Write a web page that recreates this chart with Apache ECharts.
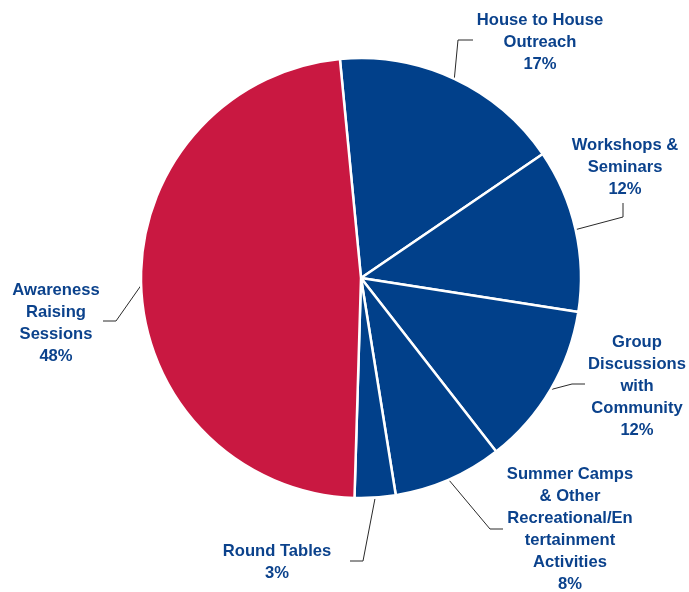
<!DOCTYPE html>
<html>
<head>
<meta charset="utf-8">
<script src="https://cdn.jsdelivr.net/npm/echarts@6/dist/echarts.min.js"></script>
<style>
  html, body { margin: 0; padding: 0; background: #ffffff; }
  #chart { width: 689px; height: 592px; }
</style>
</head>
<body>
<div id="chart"></div>
<script>
// Activity categories, clockwise from the top
const categories = [
  'House to House\nOutreach',
  'Workshops &\nSeminars',
  'Group\nDiscussions\nwith\nCommunity',
  'Summer Camps\n& Other\nRecreational/En\ntertainment\nActivities',
  'Round Tables',
  'Awareness\nRaising\nSessions'
];
// Share of activities (%)
const shares = [17, 12, 12, 8, 3, 48];

// Slice colours
const BLUE = '#01408A';
const RED = '#C91841';
const sliceColors = [BLUE, BLUE, BLUE, BLUE, BLUE, RED];

// Label placement: text block centre and the two bend points of each leader line
const labelLayoutSpec = [
  { x: 540, y: 42,  line: [[458, 40], [473, 40]] },
  { x: 625, y: 167, line: [[623, 217], [623, 203]] },
  { x: 637, y: 386, line: [[572, 384], [585, 384]] },
  { x: 570, y: 529, line: [[490, 529], [503, 529]] },
  { x: 277, y: 562, line: [[363, 561], [350, 561]] },
  { x: 56,  y: 323, line: [[116, 321], [103, 321]] }
];

const chart = echarts.init(document.getElementById('chart'), null, { renderer: 'canvas' });

chart.setOption({
  animation: false,
  backgroundColor: '#ffffff',
  series: [{
    type: 'pie',
    center: [361, 278],
    radius: [0, 220],
    startAngle: 95.5,
    clockwise: true,
    avoidLabelOverlap: false,
    itemStyle: { borderColor: '#ffffff', borderWidth: 2.5 },
    label: {
      show: true,
      position: 'outside',
      formatter: p => p.name + '\n' + p.value + '%',
      color: '#0B428C',
      fontFamily: '"Liberation Sans", Arial, sans-serif',
      fontWeight: 'bold',
      fontSize: 16.6,
      lineHeight: 22,
      align: 'center'
    },
    labelLine: {
      show: true,
      lineStyle: { color: '#2a2a2a', width: 1 }
    },
    labelLayout: function (params) {
      const spec = labelLayoutSpec[params.dataIndex];
      const start = params.labelLinePoints ? params.labelLinePoints[0] : spec.line[0];
      return {
        x: spec.x,
        y: spec.y,
        align: 'center',
        verticalAlign: 'middle',
        labelLinePoints: [start, spec.line[0], spec.line[1]]
      };
    },
    data: categories.map((name, i) => ({
      name: name,
      value: shares[i],
      itemStyle: { color: sliceColors[i] }
    }))
  }]
});
</script>
</body>
</html>
